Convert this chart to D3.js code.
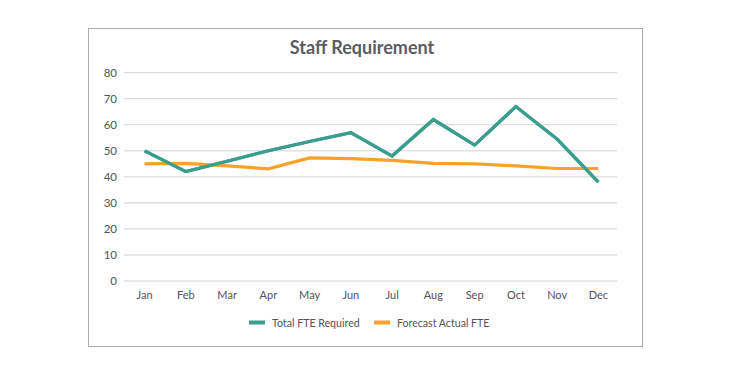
<!DOCTYPE html>
<html><head><meta charset="utf-8">
<script src="https://cdn.jsdelivr.net/npm/d3@7"></script>
<style>body{margin:0;background:#fff;font-family:Lato,"Open Sans",sans-serif;}</style>
</head><body>
<svg id="c" width="750" height="375"></svg>
<script>
const months = ["Jan","Feb","Mar","Apr","May","Jun","Jul","Aug","Sep","Oct","Nov","Dec"];
const totalFTE = [50,42,46,50,53.6,57,48,62,52.2,67,54.5,38];
const forecastFTE = [45,45.2,44.2,43.1,47.3,47,46.3,45.2,45,44.2,43.2,43.2];
const yTicks = [0,10,20,30,40,50,60,70,80];
const seriesNames = ["Total FTE Required","Forecast Actual FTE"];
const colors = ["#3a9e8e","#f9a12a"];

const svg = d3.select("#c");
svg.append("rect").attr("x",88.5).attr("y",28.5).attr("width",554).attr("height",318)
  .attr("fill","#fff").attr("stroke","#a9abae").attr("stroke-width",1);

const x = d3.scalePoint().domain(months).range([124,619]).padding(0.5);
const y = d3.scaleLinear().domain([0,80]).range([281,72.7]);

svg.append("g").selectAll("line").data(yTicks).join("line")
  .attr("x1",124).attr("x2",617).attr("y1",d=>y(d)).attr("y2",d=>y(d))
  .attr("stroke","#d3d3d3").attr("stroke-width",1);

svg.append("g").selectAll("text").data(yTicks).join("text")
  .attr("x",117).attr("y",d=>y(d)).attr("dy","0.35em").attr("text-anchor","end")
  .attr("font-size",11.5).attr("fill","#50545b").text(d=>d);

svg.append("g").selectAll("text").data(months).join("text")
  .attr("x",d=>x(d)).attr("y",299).attr("text-anchor","middle")
  .attr("font-size",11).attr("fill","#50545b").text(d=>d);

const line = d3.line().x((d,i)=>x(months[i])).y(d=>y(d));
[totalFTE, forecastFTE].forEach((s,k)=>{
  svg.append("path").datum(s).attr("d",line).attr("fill","none")
    .attr("stroke",colors[k]).attr("stroke-width",3.2).attr("stroke-linejoin","miter");
});
svg.append("path").datum(totalFTE).attr("d",line).attr("fill","none")
  .attr("stroke",colors[0]).attr("stroke-width",3.2);

svg.append("text").attr("x",362).attr("y",54).attr("text-anchor","middle")
  .attr("font-size",18).attr("font-weight","bold").attr("fill","#595d63").text("Staff Requirement");

const lg = svg.append("g");
const legX = [249, 374];
seriesNames.forEach((n,k)=>{
  lg.append("rect").attr("x",legX[k]).attr("y",320.5).attr("width",16).attr("height",4).attr("fill",colors[k]);
  lg.append("text").attr("x",legX[k]+23).attr("y",326.5).attr("font-size",10.6).attr("fill","#50545b").text(n);
});
</script>
</body></html>
